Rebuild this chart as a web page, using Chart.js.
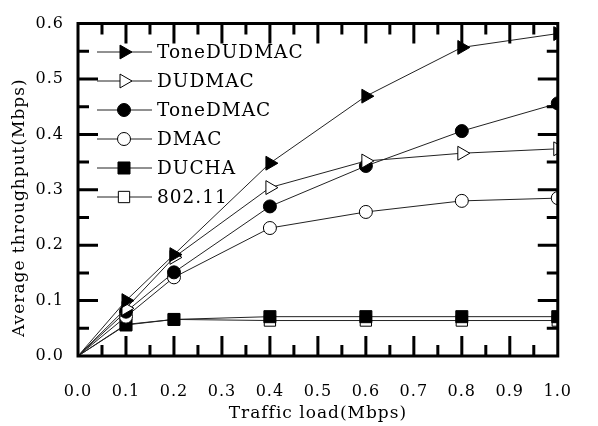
<!DOCTYPE html>
<html>
<head>
<meta charset="utf-8">
<script src="https://cdn.jsdelivr.net/npm/chart.js@4/dist/chart.umd.min.js"></script>
<style>
  html, body { margin: 0; padding: 0; background: #fff; }
  #wrap { width: 598px; height: 426px; }
</style>
</head>
<body>
<div id="wrap"><canvas id="chartLine"></canvas></div>
<script>
const trafficLoad = [0, 0.1, 0.2, 0.4, 0.6, 0.8, 1.0];
const seriesNames = ["ToneDUDMAC", "DUDMAC", "ToneDMAC", "DMAC", "DUCHA", "802.11"];
const toneDudmac = [0, 0.100, 0.183, 0.348, 0.469, 0.557, 0.582];
const dudmac = [0, 0.086, 0.178, 0.304, 0.352, 0.366, 0.374];
const toneDmac = [0, 0.080, 0.151, 0.270, 0.343, 0.406, 0.456];
const dmac = [0, 0.071, 0.142, 0.231, 0.260, 0.280, 0.285];
const ducha = [0, 0.056, 0.066, 0.071, 0.071, 0.071, 0.071];
const ieee80211 = [0, 0.057, 0.066, 0.064, 0.064, 0.064, 0.064];
const xTicks = [0, 0.1, 0.2, 0.3, 0.4, 0.5, 0.6, 0.7, 0.8, 0.9, 1.0];
const yTicks = [0, 0.1, 0.2, 0.3, 0.4, 0.5, 0.6];
const yTitle = "Average throughput(Mbps)";
const xTitle = "Traffic load(Mbps)";

const serif = "'DejaVu Serif', 'Liberation Serif', serif";
const markers = [
    { style: "triangle", rotation: 90, fill: "#000", r: 8 },
    { style: "triangle", rotation: 90, fill: "#fff", r: 8 },
    { style: "circle", rotation: 0, fill: "#000", r: 6.5 },
    { style: "circle", rotation: 0, fill: "#fff", r: 6.5 },
    { style: "rect", rotation: 0, fill: "#000", r: 8.5 },
    { style: "rect", rotation: 0, fill: "#fff", r: 8 },
];
const allValues = [toneDudmac, dudmac, toneDmac, dmac, ducha, ieee80211];

function pts(vals) {
    return vals.map((v, i) => ({ x: trafficLoad[i], y: v }));
}

const datasets = allValues.map((vals, i) => ({
    label: seriesNames[i],
    data: pts(vals),
    borderColor: "#222",
    borderWidth: 1,
    backgroundColor: markers[i].fill,
    pointBackgroundColor: markers[i].fill,
    pointBorderColor: "#000",
    pointBorderWidth: 1,
    pointStyle: markers[i].style,
    pointRotation: markers[i].rotation,
    pointRadius: (c) => (c.dataIndex === 0 ? 0 : markers[i].r),
    tension: 0,
}));

function resetCtx(c2) {
    c2.setLineDash([]);
    c2.globalAlpha = 1;
    c2.globalCompositeOperation = "source-over";
    c2.lineCap = "butt";
    c2.lineJoin = "miter";
}

function drawFrame(chart) {
    const c2 = chart.ctx;
    const a = chart.chartArea;
    const xs = chart.scales.x, ys = chart.scales.y;
    c2.save();
    resetCtx(c2);
    c2.strokeStyle = "black";
    c2.lineWidth = 3;
    c2.beginPath();
    c2.rect(a.left, a.top, a.right - a.left, a.bottom - a.top);
    for (let k = 0; k <= 20; k++) {
        const px = xs.getPixelForValue(k * 0.05);
        const len = k % 2 === 0 ? 20 : 11;
        c2.moveTo(px, a.bottom); c2.lineTo(px, a.bottom - len);
        c2.moveTo(px, a.top); c2.lineTo(px, a.top + len);
    }
    for (let k = 0; k <= 12; k++) {
        const py = ys.getPixelForValue(k * 0.05);
        const len = k % 2 === 0 ? 20 : 11;
        c2.moveTo(a.left, py); c2.lineTo(a.left + len, py);
        c2.moveTo(a.right, py); c2.lineTo(a.right - len, py);
    }
    c2.stroke();

    // rotated y title, set a bit below the middle like the original
    c2.letterSpacing = "1px";
    c2.font = "17px " + serif;
    c2.fillStyle = "black";
    c2.textAlign = "left";
    c2.textBaseline = "middle";
    c2.translate(20, 337);
    c2.rotate(-Math.PI / 2);
    c2.fillText(yTitle, 0, 0);
    c2.restore();
}

function drawLegend(chart) {
    const c2 = chart.ctx;
    c2.save();
    resetCtx(c2);
    c2.letterSpacing = "1px";
    c2.font = "18.5px " + serif;
    c2.textAlign = "left";
    c2.textBaseline = "middle";
    chart.data.datasets.forEach((ds, i) => {
        const ly = 52 + i * 29;
        c2.strokeStyle = "#222";
        c2.lineWidth = 1;
        c2.beginPath();
        c2.moveTo(97, ly);
        c2.lineTo(152, ly);
        c2.stroke();
        c2.fillStyle = markers[i].fill;
        c2.strokeStyle = "black";
        Chart.helpers.drawPoint(c2, {
            pointStyle: markers[i].style,
            rotation: markers[i].rotation,
            radius: markers[i].r,
            borderWidth: 1,
        }, 124, ly);
        c2.fillStyle = "black";
        c2.fillText(ds.label, 157, ly + 1);
    });
    c2.restore();
}

// frame with inward ticks, y title and the legend inside the plot
const overlay = {
    id: "overlay",
    beforeLayout(chart) { chart.ctx.letterSpacing = "1px"; },
    beforeDraw(chart) { chart.ctx.letterSpacing = "1px"; },
    afterDraw(chart) {
        drawFrame(chart);
        drawLegend(chart);
    },
};

new Chart(document.getElementById("chartLine"), {
    type: "line",
    data: { datasets: datasets },
    plugins: [overlay],
    options: {
        responsive: true,
        maintainAspectRatio: false,
        animation: false,
        layout: { padding: { left: 0, top: 19, right: 16, bottom: 0 } },
        plugins: {
            legend: { display: false },
            tooltip: { enabled: false },
        },
        scales: {
            x: {
                type: "linear",
                min: 0,
                max: 1,
                afterBuildTicks: (s) => { s.ticks = xTicks.map((v) => ({ value: v })); },
                afterFit: (s) => { s.height = 70; },
                grid: { display: false, drawTicks: false },
                border: { display: false },
                ticks: {
                    padding: 26,
                    color: "#000",
                    font: { family: serif, size: 16 },
                    maxRotation: 0,
                    callback: (v) => Number(v).toFixed(1),
                },
                title: {
                    display: true,
                    text: xTitle,
                    color: "#000",
                    font: { family: serif, size: 17 },
                    padding: { top: 0, bottom: 2 },
                },
            },
            y: {
                type: "linear",
                min: 0,
                max: 0.6,
                afterBuildTicks: (s) => { s.ticks = yTicks.map((v) => ({ value: v })); },
                afterFit: (s) => { s.width = 78; },
                grid: { display: false, drawTicks: false },
                border: { display: false },
                ticks: {
                    padding: 14,
                    color: "#000",
                    font: { family: serif, size: 16 },
                    callback: (v) => Number(v).toFixed(1),
                },
            },
        },
    },
});
</script>
</body>
</html>
